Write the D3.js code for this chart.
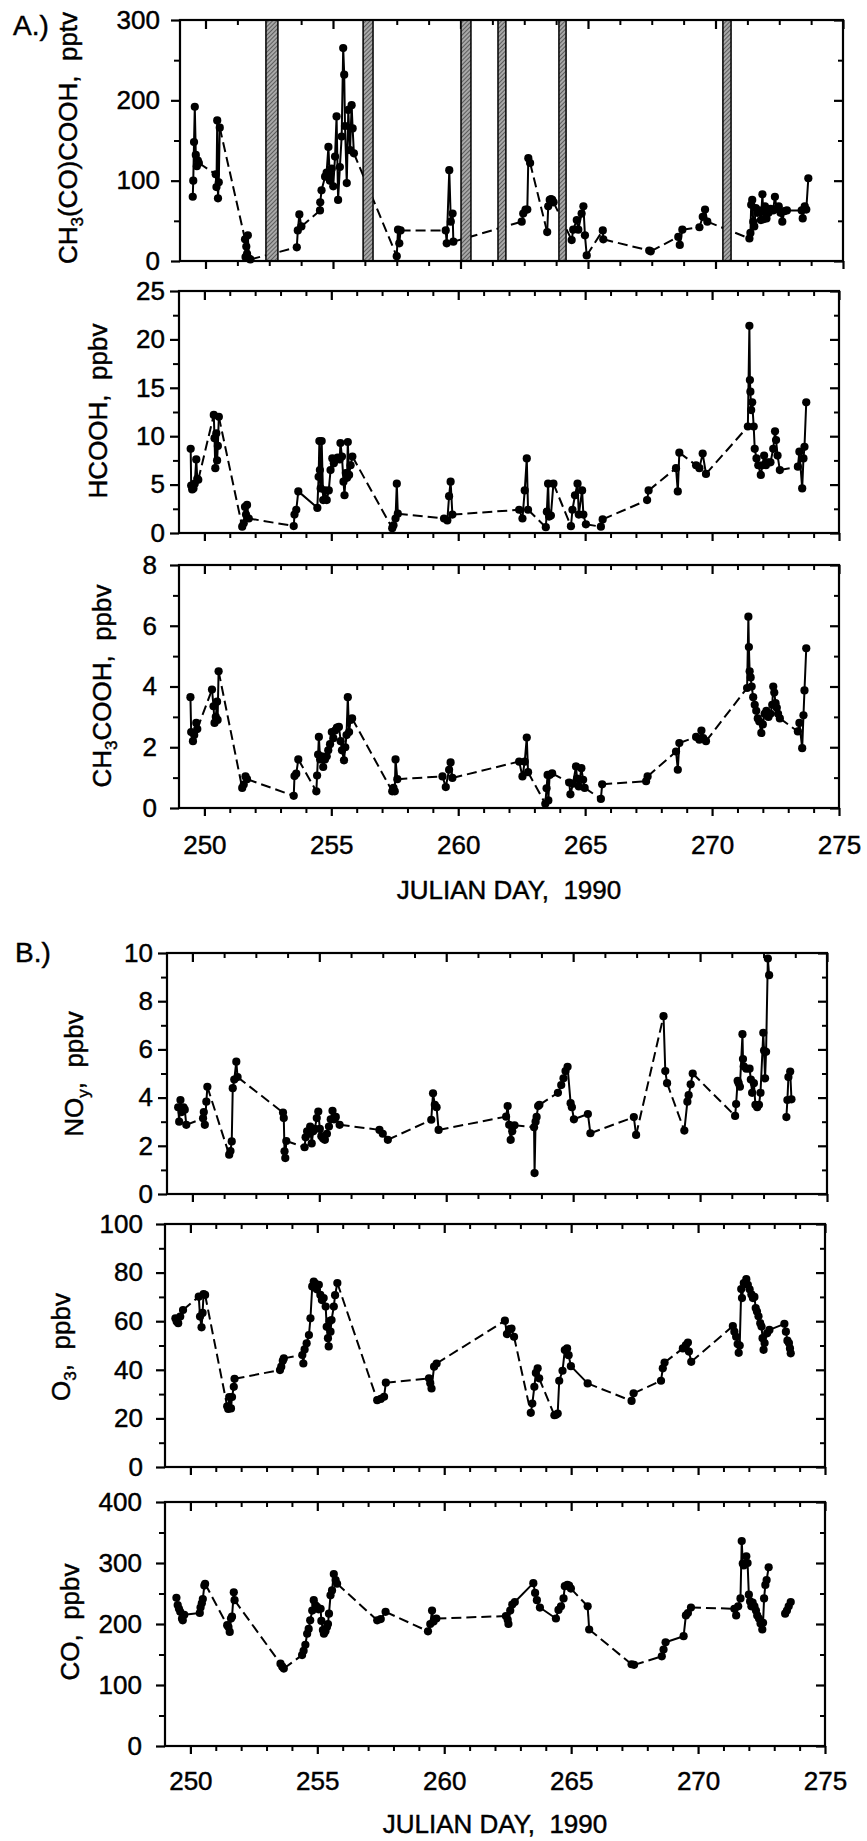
<!DOCTYPE html>
<html><head><meta charset="utf-8">
<script src="https://cdn.jsdelivr.net/npm/d3@7"></script>
<style>
body{margin:0;background:#fff}
svg text{font-family:"Liberation Sans",Arial,Helvetica,sans-serif;fill:#000;stroke:#000;stroke-width:0.45px}
</style></head><body>
<svg id="c" width="867" height="1841"></svg>
<script>
// ---------------- data ----------------
const dayDomain = [249, 275];
const dayLabels = [250, 255, 260, 265, 270, 275];
const xTitle = "JULIAN DAY,  1990";
// no-sampling periods in the pyruvic acid panel [start, end]
const gapBars = [[252.37, 252.84], [256.18, 256.57], [260.02, 260.41], [261.47, 261.78], [263.86, 264.14], [270.29, 270.61]];

// each series: list of flights [[day, value], ...]; null = no connection to next flight
const pyruvic = [
 [[249.50,80],[249.52,100],[249.55,148],[249.58,192],[249.62,132],[249.66,118],[249.70,125],[249.74,122]],
 [[250.40,108],[250.43,92],[250.46,175],[250.49,78],[250.52,98],[250.56,166]],
 [[251.55,27],[251.57,5],[251.60,18],[251.63,9],[251.66,32],[251.70,3],[251.76,2]],
 [[253.58,17],[253.62,38],[253.68,58],[253.76,43]],
 [[254.49,63],[254.50,73],[254.55,88],[254.69,105],[254.75,110],[254.82,142],[254.88,100],[254.95,115],[255.01,93],[255.08,130],[255.14,180],[255.20,76],[255.27,117],[255.34,155],[255.40,265],[255.44,232],[255.47,168],[255.54,97],[255.60,188],[255.67,138],[255.73,194],[255.77,165],[255.82,134]],
 [[257.50,6],[257.55,39],[257.60,22],[257.65,38]],
 [[259.42,38],[259.46,22],[259.56,113],[259.62,49],[259.69,59],[259.72,24]],
 [[262.40,49],[262.46,59],[262.55,64],[262.62,64],[262.66,128],[262.73,122]],
 [[263.40,36],[263.44,68],[263.50,76],[263.55,77],[263.60,76],[263.65,73]],
 [[264.36,26],[264.42,39],[264.56,51],[264.62,39],[264.75,59],[264.82,68],[264.88,32],[264.95,7]],
 [[265.58,38],[265.60,27]],
 [[267.40,13],[267.46,12]],
 [[268.54,30],[268.60,20],[268.70,39]],
 [[269.37,42],[269.50,55],[269.59,64],[269.68,49]],
 [[271.33,28],[271.37,35],[271.40,70],[271.44,76],[271.48,49],[271.52,43],[271.58,66],[271.64,60],[271.70,63],[271.78,51],[271.84,83],[271.88,52],[271.94,68],[272.00,53],[272.08,60],[272.16,65],[272.26,63],[272.33,80],[272.40,65],[272.48,68],[272.55,60],[272.62,49],[272.70,62],[272.80,63],[273.38,63],[273.42,53],[273.50,68],[273.56,64],[273.64,103]]
];

const formic = [
 [[249.46,8.7],[249.48,4.9],[249.52,4.5],[249.57,4.6],[249.62,5.1],[249.68,7.6],[249.72,5.6],[249.76,5.5]],
 [[250.37,12.2],[250.40,9.8],[250.43,6.7],[250.47,10.3],[250.50,7.5],[250.53,9.0],[250.57,12.0]],
 [[251.49,0.65],[251.55,1.0],[251.60,2.7],[251.64,1.9],[251.68,2.9],[251.75,1.5]],
 [[253.52,0.72],[253.55,1.9],[253.62,2.4],[253.70,4.3],[254.45,2.6],[254.50,5.8],[254.53,9.5],[254.55,6.5],[254.58,4.6],[254.62,9.5],[254.68,3.4],[254.75,4.4],[254.82,3.4],[254.90,4.4],[254.97,6.5],[255.04,7.7],[255.10,7.2],[255.18,7.6],[255.25,7.8],[255.33,7.6],[255.36,9.3],[255.42,7.9],[255.48,5.3],[255.52,3.9],[255.57,6.2],[255.62,5.7],[255.65,9.4],[255.70,6.0],[255.76,7.0],[255.83,7.9]],
 [[257.40,0.5],[257.45,0.8],[257.53,1.5],[257.58,5.1],[257.62,2.0]],
 [[259.44,1.5],[259.57,1.3],[259.64,3.8],[259.70,5.3],[259.77,1.9]],
 [[262.40,2.4],[262.53,1.5],[262.62,4.4],[262.70,7.7],[262.75,2.4]],
 [[263.45,0.6],[263.49,2.2],[263.54,5.1],[263.58,1.7],[263.65,1.8],[263.75,5.1]],
 [[264.44,0.7],[264.50,2.4],[264.60,3.9],[264.70,5.1],[264.75,1.9],[264.88,4.4],[264.93,1.9],[265.03,0.9]],
 [[265.62,0.65],[265.69,1.4]],
 [[267.44,3.4],[267.50,4.4]],
 [[268.58,6.7],[268.65,4.3],[268.71,8.3]],
 [[269.37,7.0],[269.50,6.7],[269.63,8.2],[269.76,6.1]],
 [[271.41,11.0],[271.47,21.4],[271.49,15.8],[271.51,14.6],[271.54,12.7],[271.58,13.5],[271.64,11.0],[271.68,8.7],[271.75,7.7],[271.82,7.0],[271.92,6.0],[271.98,7.0],[272.05,8.0],[272.12,7.0],[272.20,7.3],[272.30,7.3],[272.41,8.7],[272.48,10.5],[272.52,9.6],[272.58,8.0],[272.67,6.5]],
 [[273.38,6.85],[273.44,8.4],[273.55,4.6],[273.60,7.7],[273.64,8.9],[273.71,13.5]]
];

const acetic = [
 [[249.45,3.65],[249.48,2.5],[249.55,2.2],[249.60,2.4],[249.68,2.8],[249.72,2.6]],
 [[250.30,3.9],[250.36,3.35],[250.40,2.8],[250.45,3.0],[250.50,3.5],[250.52,2.9],[250.56,4.5]],
 [[251.49,0.66],[251.55,0.77],[251.62,1.04],[251.68,0.95]],
 [[253.52,0.4],[253.55,1.05],[253.62,1.13],[253.70,1.6]],
 [[254.41,0.55],[254.44,1.07],[254.48,1.76],[254.51,2.34],[254.56,1.6],[254.62,1.7],[254.68,1.35],[254.75,1.6],[254.82,1.7],[254.88,1.9],[254.95,2.1],[255.02,2.5],[255.08,2.3],[255.15,2.55],[255.22,2.65],[255.30,2.67],[255.37,2.2],[255.42,1.9],[255.50,1.57],[255.55,2.0],[255.60,2.4],[255.65,3.65],[255.70,2.5],[255.76,2.9],[255.82,2.95]],
 [[257.40,0.55],[257.45,0.66],[257.50,0.55],[257.53,1.6],[257.60,0.95]],
 [[259.38,1.04],[259.51,0.69],[259.64,1.26],[259.70,1.5],[259.77,0.99]],
 [[262.40,1.53],[262.53,1.04],[262.62,1.53],[262.70,2.32],[262.75,1.18]],
 [[263.43,0.14],[263.48,0.65],[263.52,1.09],[263.55,0.25],[263.60,1.09],[263.70,1.14]],
 [[264.37,0.84],[264.42,0.45],[264.52,0.8],[264.64,1.37],[264.68,0.97],[264.75,0.71],[264.85,1.31],[264.92,0.93],[264.98,0.66]],
 [[265.62,0.3],[265.67,0.78]],
 [[267.40,0.88],[267.46,1.04]],
 [[268.58,1.86],[268.65,1.26],[268.71,2.14]],
 [[269.37,2.34],[269.50,2.25],[269.58,2.55],[269.65,2.3],[269.76,2.2]],
 [[271.38,3.95],[271.43,6.3],[271.45,5.3],[271.48,4.5],[271.52,4.3],[271.56,4.0],[271.62,3.65],[271.68,3.4],[271.74,3.2],[271.80,2.95],[271.86,2.85],[271.94,2.47],[272.00,2.75],[272.07,3.1],[272.14,3.2],[272.22,3.0],[272.30,3.1],[272.37,3.4],[272.41,4.0],[272.45,3.8],[272.50,3.45],[272.55,3.3],[272.60,3.1],[272.67,2.95]],
 [[273.38,2.52],[273.44,2.8],[273.55,1.97],[273.60,3.05],[273.64,3.87],[273.71,5.26]]
];

const noy = [
 [[249.44,3.6],[249.48,3.0],[249.53,3.9],[249.58,3.4],[249.65,3.6],[249.70,3.5],[249.76,2.87]],
 [[250.42,3.14],[250.45,3.4],[250.49,2.87],[250.55,3.83],[250.59,4.45]],
 [[251.45,1.63],[251.50,1.78],[251.55,2.18],[251.59,4.39],[251.65,4.75],[251.73,5.49],[251.78,4.85]],
 [[253.57,3.38],[253.60,3.15],[253.63,1.77],[253.66,1.49],[253.70,2.2]],
 [[254.42,1.94],[254.46,2.35],[254.52,2.6],[254.58,2.5],[254.64,2.8],[254.70,2.1],[254.76,2.6],[254.82,2.7],[254.90,3.15],[254.96,3.42],[255.02,2.7],[255.08,2.4],[255.15,2.3],[255.22,2.25],[255.30,2.5],[255.38,2.8],[255.45,3.1],[255.52,3.45],[255.58,3.1],[255.65,3.2],[255.80,2.87]],
 [[257.37,2.66],[257.50,2.5],[257.70,2.25]],
 [[259.41,3.08],[259.48,4.18],[259.55,3.7],[259.62,3.6],[259.70,2.66]],
 [[262.36,3.21],[262.42,3.65],[262.48,2.87],[262.54,2.25],[262.60,2.6],[262.69,2.85]],
 [[263.46,2.77],[263.48,0.87],[263.52,3.0],[263.56,3.2],[263.62,3.65],[263.67,3.7]],
 [[264.40,4.2],[264.53,4.52],[264.62,4.8],[264.70,5.1],[264.78,5.28],[264.90,3.77],[264.95,3.6],[265.03,3.1],[265.58,3.32],[265.68,2.52]],
 [[267.39,3.19],[267.48,2.45]],
 [[268.56,7.38],[268.63,5.1],[268.70,4.6]],
 [[269.38,2.63],[269.50,3.83],[269.55,4.1],[269.63,4.55],[269.71,5.0]],
 [[271.38,3.24],[271.42,3.73],[271.48,4.7],[271.52,4.6],[271.57,4.45],[271.67,6.63],[271.69,5.6],[271.72,5.3],[271.82,5.2],[271.95,5.2],[272.00,4.75],[272.05,4.2],[272.12,4.6],[272.18,3.7],[272.25,3.6],[272.32,3.7],[272.38,4.2],[272.49,6.69],[272.52,5.95],[272.56,4.8],[272.60,5.9],[272.67,9.77],[272.72,9.08]],
 null,
 [[273.40,3.19],[273.44,3.9],[273.48,4.85],[273.55,5.08],[273.60,3.93]]
];

const ozone = [
 [[249.41,61.2],[249.46,59.9],[249.52,59.2],[249.60,61.9],[249.71,64.6]],
 [[250.33,70.1],[250.38,61.9],[250.44,57.5],[250.48,63.4],[250.52,71.2],[250.58,70.8]],
 [[251.45,25],[251.49,23.9],[251.53,28.8],[251.60,24.1],[251.64,28.8],[251.71,33],[251.74,36.3]],
 [[253.53,39.9],[253.58,41.3],[253.64,43.7],[253.68,44.7]],
 [[254.41,46.1],[254.45,42.6],[254.50,48.4],[254.58,50.9],[254.67,54.3],[254.73,61.2],[254.80,74.3],[254.86,76.3],[254.92,75.5],[254.98,73.1],[255.06,75.0],[255.12,70.8],[255.18,68.7],[255.25,69.5],[255.33,66.0],[255.37,57.7],[255.42,53.0],[255.45,49.6],[255.48,60],[255.52,55.7],[255.56,60.5],[255.65,66.0],[255.70,70.7],[255.79,75.7]],
 [[257.36,27.5],[257.50,28],[257.63,28.9],[257.70,34.7]],
 [[259.40,36.5],[259.45,34.5],[259.50,32.3],[259.60,41.3],[259.70,42.6]],
 [[262.39,60.2],[262.47,54.7],[262.56,56.6],[262.65,57.0],[262.75,53.6]],
 [[263.41,22.3],[263.47,26.1],[263.55,33.0],[263.61,38.7],[263.68,40.6],[263.74,36.5]],
 [[264.34,21.3],[264.40,21.5],[264.47,22.0],[264.53,35.5],[264.66,39.6],[264.75,48.1],[264.84,48.8],[264.90,46.0],[264.99,41.5],[265.65,34.4]],
 [[267.38,27.2],[267.46,30.3]],
 [[268.54,35.5],[268.61,40.6],[268.68,43]],
 [[269.40,48.8],[269.52,50.2],[269.60,51.2],[269.64,47.5],[269.73,43.3]],
 [[271.37,58],[271.43,55.7],[271.50,53.6],[271.56,50.6],[271.60,47],[271.64,50],[271.70,73.2],[271.73,69.5],[271.80,75.7],[271.90,77.3],[271.96,75],[272.03,73.1],[272.10,71],[272.16,69.5],[272.22,70],[272.27,65.4],[272.32,64],[272.38,62],[272.45,59.2],[272.50,57.8],[272.54,53],[272.58,48.2],[272.62,51],[272.72,55],[272.81,56.4],[273.40,58.9],[273.46,55.7],[273.52,52],[273.58,51],[273.62,48.8],[273.65,46.8]]
];

const co = [
 [[249.45,243],[249.50,231],[249.55,225],[249.60,220],[249.67,209],[249.70,206],[249.76,215],[250.37,218],[250.40,227],[250.45,234],[250.49,241],[250.55,263],[250.58,266]],
 [[251.45,198],[251.50,195],[251.55,187],[251.60,209],[251.64,212],[251.71,252],[251.74,239]],
 [[253.55,135],[253.62,130],[253.68,127]],
 [[254.40,149],[254.46,156],[254.53,166],[254.60,184],[254.66,192],[254.72,206],[254.80,222],[254.86,239],[254.92,231],[254.99,228],[255.05,224],[255.13,225],[255.16,205],[255.22,190],[255.26,184],[255.32,188],[255.38,195],[255.42,200],[255.46,217],[255.52,247],[255.58,255],[255.65,282],[255.72,272],[255.78,266]],
 [[257.36,206],[257.50,208],[257.69,220]],
 [[259.36,188],[259.45,200],[259.52,222],[259.58,204],[259.69,209]],
 [[262.43,213],[262.50,207],[262.53,200],[262.60,222],[262.68,232],[262.78,236],[263.51,267],[263.58,251],[263.65,239],[263.77,227],[264.40,209],[264.50,223],[264.60,229],[264.70,242],[264.75,262],[264.85,264],[264.92,263],[264.99,258]],
 [[265.65,229],[265.71,191]],
 [[267.38,134],[267.48,133]],
 [[268.57,147],[268.64,158],[268.72,170],[269.43,180],[269.52,214],[269.60,218],[269.72,227]],
 [[271.43,225],[271.50,214],[271.58,229],[271.67,242],[271.72,336],[271.76,299],[271.80,296],[271.90,311],[271.95,300],[272.00,248],[272.05,237],[272.10,229],[272.15,235],[272.22,229],[272.28,222],[272.33,214],[272.40,209],[272.46,201],[272.53,191],[272.56,202],[272.60,242],[272.65,264],[272.70,272],[272.78,293]],
 null,
 [[273.43,217],[273.50,222],[273.57,229],[273.65,236]]
];

// ---------------- layout ----------------
const panels = [
 {data: pyruvic, top:20,   bottom:261,  left:180, right:843, yMax:300, yMajor:100, yMinor:50,  xMinor:1.25, gap:20, tX:77,  tY:138,
  title:[["CH",0],["3",1],["(CO)COOH,  pptv",0]], bars:true},
 {data: formic,  top:291,  bottom:533,  left:179, right:839, yMax:25,  yMajor:5,   yMinor:2.5, xMinor:1, gap:14, tX:107, tY:411,
  title:[["HCOOH,  ppbv",0]]},
 {data: acetic,  top:565,  bottom:808,  left:179, right:839, yMax:8,   yMajor:2,   yMinor:1,   xMinor:1, gap:22, tX:111, tY:686,
  title:[["CH",0],["3",1],["COOH,  ppbv",0]], xLab:{pad:20, titleY:91}},
 {data: noy,     top:953,  bottom:1194, left:167, right:827, yMax:10,  yMajor:2,   yMinor:1,   xMinor:1.25, gap:14, tX:83, tY:1074,
  title:[["NO",0],["y",1],[",  ppbv",0]]},
 {data: ozone,   top:1224, bottom:1467, left:165, right:825, yMax:100, yMajor:20,  yMinor:10,  xMinor:1, gap:22, tX:70, tY:1347,
  title:[["O",0],["3",1],[",  ppbv",0]]},
 {data: co,      top:1502, bottom:1746, left:165, right:825, yMax:400, yMajor:100, yMinor:50,  xMinor:1, gap:23, tX:79, tY:1622,
  title:[["CO,  ppbv",0]], xLab:{pad:18, titleY:87}}
];

const svg = d3.select("#c");
svg.append("rect").attr("width",867).attr("height",1841).attr("fill","#fff");
const defs = svg.append("defs");
const pat = defs.append("pattern").attr("id","hatch").attr("patternUnits","userSpaceOnUse")
  .attr("width",3).attr("height",3).attr("patternTransform","rotate(45)");
pat.append("rect").attr("width",3).attr("height",3).attr("fill","#a8a8a8");
pat.append("line").attr("x1",0).attr("y1",0).attr("x2",0).attr("y2",3).attr("stroke","#333").attr("stroke-width",1.3);

const FS = 26;

function styleAxis(g, w){
  g.attr("font-size", null).attr("font-family", null);
  g.select(".domain").remove();
  g.selectAll(".tick line").attr("stroke","#000").attr("stroke-width", w);
  g.selectAll(".tick text").style("font-size", FS+"px");
}

panels.forEach(p => {
  const x = d3.scaleLinear().domain(dayDomain).range([p.left, p.right]);
  const y = d3.scaleLinear().domain([0, p.yMax]).range([p.bottom, p.top]);
  const g = svg.append("g");

  const yMaj = d3.range(0, p.yMax + 1e-9, p.yMajor);
  const yMin = d3.range(0, p.yMax + 1e-9, p.yMinor).filter(v => !yMaj.some(m => Math.abs(m - v) < 1e-9));
  const xMaj = dayLabels;
  const xMin = d3.range(250, 275 + 1e-9, p.xMinor).filter(v => !xMaj.some(m => Math.abs(m - v) < 1e-9));

  // left
  styleAxis(g.append("g").attr("transform",`translate(${p.left},0)`)
    .call(d3.axisLeft(y).tickValues(yMaj).tickSize(9).tickPadding(p.gap - 9).tickFormat(d3.format("d"))), 2.2);
  styleAxis(g.append("g").attr("transform",`translate(${p.left},0)`)
    .call(d3.axisLeft(y).tickValues(yMin).tickSize(6).tickFormat("")), 2);
  // right (inside)
  styleAxis(g.append("g").attr("transform",`translate(${p.right},0)`)
    .call(d3.axisRight(y).tickValues(yMaj).tickSize(-9).tickFormat("")), 2.2);
  styleAxis(g.append("g").attr("transform",`translate(${p.right},0)`)
    .call(d3.axisRight(y).tickValues(yMin).tickSize(-5).tickFormat("")), 2);
  // top (inside)
  styleAxis(g.append("g").attr("transform",`translate(0,${p.top})`)
    .call(d3.axisTop(x).tickValues(xMaj).tickSize(-9).tickFormat("")), 2.2);
  styleAxis(g.append("g").attr("transform",`translate(0,${p.top})`)
    .call(d3.axisTop(x).tickValues(xMin).tickSize(-5).tickFormat("")), 2);
  // bottom (outside)
  const bx = g.append("g").attr("transform",`translate(0,${p.bottom})`)
    .call(d3.axisBottom(x).tickValues(xMaj).tickSize(8)
      .tickPadding(p.xLab ? p.xLab.pad : 3).tickFormat(p.xLab ? d3.format("d") : ""));
  styleAxis(bx, 2.2);
  styleAxis(g.append("g").attr("transform",`translate(0,${p.bottom})`)
    .call(d3.axisBottom(x).tickValues(xMin).tickSize(5).tickFormat("")), 2);

  // series lines
  const line = d3.line().x(d => x(d[0])).y(d => y(d[1]));
  const flights = p.data;
  // dashed connections between flights
  for (let i = 0; i < flights.length - 1; i++) {
    const a = flights[i], b = flights[i + 1];
    if (!a || !b) continue;
    g.append("path").attr("d", line([a[a.length - 1], b[0]]))
      .attr("fill","none").attr("stroke","#000").attr("stroke-width",2)
      .attr("stroke-dasharray","10,5");
  }
  flights.forEach(f => {
    if (!f) return;
    g.append("path").attr("d", line(f)).attr("fill","none")
      .attr("stroke","#000").attr("stroke-width",2).attr("stroke-linejoin","round");
  });

  if (p.bars) {
    g.selectAll("rect.gapbar").data(gapBars).join("rect").attr("class","gapbar")
      .attr("x", d => x(d[0])).attr("width", d => x(d[1]) - x(d[0]))
      .attr("y", p.top).attr("height", p.bottom - p.top)
      .attr("fill","url(#hatch)").attr("stroke","#000").attr("stroke-width",1.5);
  }

  // markers
  const pts = flights.filter(f => f).flat();
  g.selectAll("circle").data(pts).join("circle")
    .attr("cx", d => x(d[0])).attr("cy", d => y(d[1])).attr("r", 4.1).attr("fill","#000");

  // frame
  g.append("rect").attr("x", p.left).attr("y", p.top)
    .attr("width", p.right - p.left).attr("height", p.bottom - p.top)
    .attr("fill","none").attr("stroke","#000").attr("stroke-width",2.2);

  // y title
  const t = g.append("text").attr("transform",`translate(${p.tX},${p.tY}) rotate(-90)`)
    .attr("text-anchor","middle").style("font-size", FS+"px").style("white-space","pre");
  let shifted = false;
  p.title.forEach(([s, sub]) => {
    const ts = t.append("tspan").text(s);
    if (sub) { ts.attr("dy", 6).style("font-size","17px"); shifted = true; }
    else if (shifted) { ts.attr("dy", -6); shifted = false; }
  });

  if (p.xLab) {
    svg.append("text").attr("x", (p.left + p.right) / 2).attr("y", p.bottom + p.xLab.titleY)
      .attr("text-anchor","middle").style("font-size", FS+"px").style("white-space","pre").text(xTitle);
  }
});

svg.append("text").attr("x",13).attr("y",35).style("font-size","28px").text("A.)");
svg.append("text").attr("x",15).attr("y",962).style("font-size","28px").text("B.)");
</script>
</body></html>
